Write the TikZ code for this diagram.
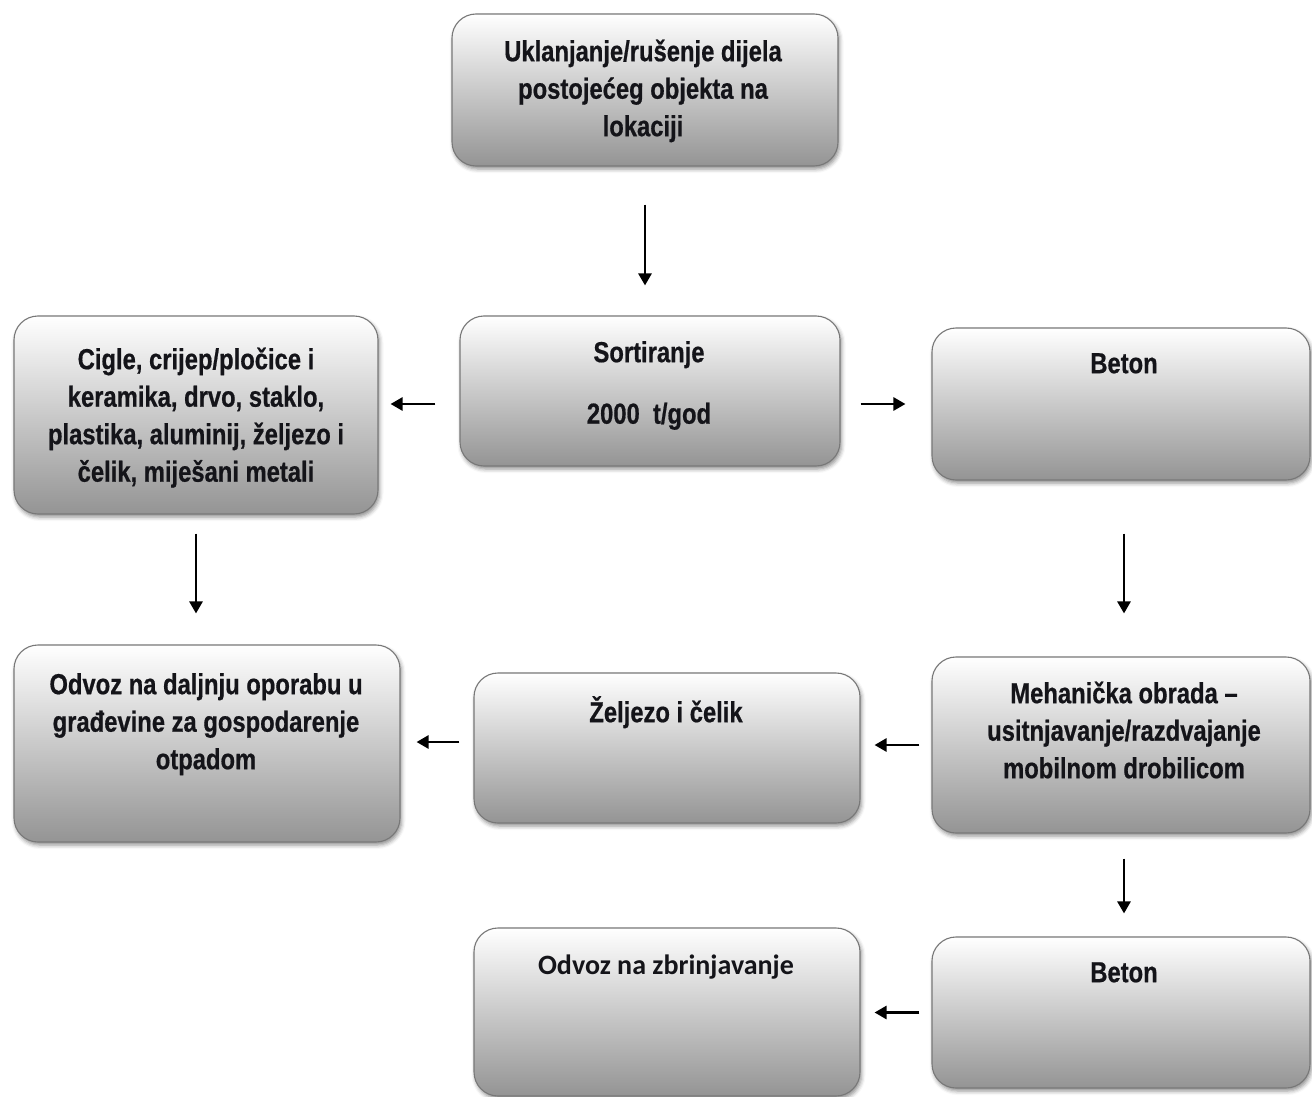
\documentclass[tikz,border=0pt]{standalone}
\usepackage{fontspec}
\setmainfont{Liberation Sans}[FakeStretch=0.82,FakeBold=0.6]
\newfontfamily\calfont{Carlito}
\usetikzlibrary{arrows.meta,shadows.blur,calc}
\definecolor{boxline}{RGB}{120,120,120}
\definecolor{boxbot}{RGB}{148,148,148}
\definecolor{txtcol}{RGB}{20,20,25}
\newcommand\mystrut{\rule{0pt}{30pt}}
\tikzset{
  box/.style={rectangle, rounded corners=24pt, draw=boxline, line width=1.1pt,
    top color=white, bottom color=boxbot, inner sep=0pt,
    blur shadow={shadow xshift=1.5pt, shadow yshift=-3pt, shadow blur radius=4pt, shadow opacity=45}},
  lbl/.style={anchor=north, align=center, inner sep=0pt, text=txtcol,
    font=\fontsize{29}{37.5}\selectfont\bfseries},
  arr/.style={line width=2.7pt, -{Triangle[length=12pt,width=13pt]}}
}
\begin{document}
\begin{tikzpicture}[x=1pt,y=-1pt]
\useasboundingbox (0,0) rectangle (1312,1097);
% boxes
\node[box, minimum width=386pt, minimum height=152pt] (top) at (645,90) {};
\node[box, minimum width=364pt, minimum height=198pt] (cig) at (196,415) {};
\node[box, minimum width=380pt, minimum height=150pt] (sort) at (650,391) {};
\node[box, minimum width=378pt, minimum height=152pt] (beta) at (1121,404) {};
\node[box, minimum width=386pt, minimum height=197pt] (odva) at (207,743.5) {};
\node[box, minimum width=386pt, minimum height=150pt] (zel) at (667,748) {};
\node[box, minimum width=378pt, minimum height=176pt] (meh) at (1121,745) {};
\node[box, minimum width=386pt, minimum height=168pt] (odvb) at (667,1012) {};
\node[box, minimum width=378pt, minimum height=151pt] (betb) at (1121,1012.5) {};
% texts
\node[lbl] (ttop) at (643,31) {\mystrut Uklanjanje/rušenje dijela\\postojećeg objekta na\\lokaciji};
\node[lbl] (tcig) at (196,339) {\mystrut Cigle, crijep/pločice i\\keramika, drvo, staklo,\\plastika, aluminij, željezo i\\čelik, miješani metali};
\node[lbl] (tsort) at (649,332) {\mystrut Sortiranje\\[24pt]2000~~t/god};
\node[lbl] (tbeta) at (1124,343) {\mystrut Beton};
\node[lbl] (todva) at (206,664) {\mystrut Odvoz na daljnju oporabu u\\građevine za gospodarenje\\otpadom};
\node[lbl] (tzel) at (666,692) {\mystrut Željezo i čelik};
\node[lbl] (tmeh) at (1124,673) {\mystrut Mehanička obrada --\\usitnjavanje/razdvajanje\\mobilnom drobilicom};
\node[lbl, font=\calfont\fontsize{28}{34}\selectfont\bfseries] (todvb) at (666,944) {\mystrut Odvoz na zbrinjavanje};
\node[lbl] (tbetb) at (1124,952) {\mystrut Beton};
% connectors
\coordinate (ps) at ([yshift=-13pt]sort.west);
\coordinate (pz) at ([yshift=6pt]zel.west);
\draw[arr, shorten <=38pt, shorten >=30pt] (top.south) -- (top.south |- sort.north);
\draw[arr, shorten <=24pt, shorten >=12pt] (ps) -- (ps -| cig.east);
\draw[arr, shorten <=20pt, shorten >=26pt] (beta.west -| sort.east) -- (beta.west);
\draw[arr, shorten <=19pt, shorten >=31pt] (cig.south) -- (cig.south |- odva.north);
\draw[arr, shorten <=53pt, shorten >=43pt] ([xshift=3pt]beta.south) -- ([xshift=3pt]beta.south |- meh.north);
\draw[arr, shorten <=12pt, shorten >=14pt] (meh.west) -- (meh.west -| zel.east);
\draw[arr, shorten <=14pt, shorten >=16pt] (pz) -- (pz -| odva.east);
\draw[arr, shorten <=25pt, shorten >=23pt] ([xshift=3pt]meh.south) -- ([xshift=3pt]meh.south |- betb.north);
\draw[arr, shorten <=12pt, shorten >=14pt] (betb.west) -- (betb.west -| odvb.east);
\end{tikzpicture}
\end{document}
